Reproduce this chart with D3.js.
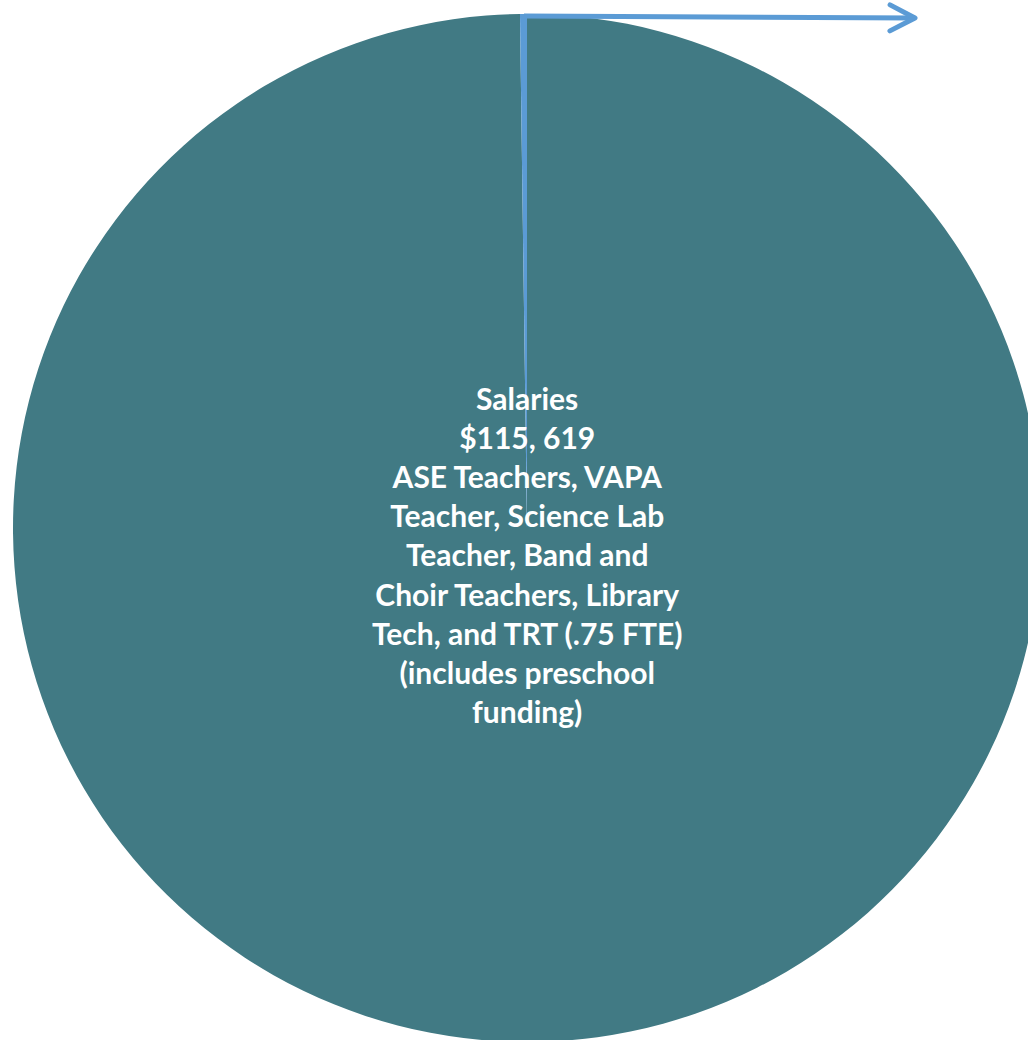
<!DOCTYPE html>
<html>
<head>
<meta charset="utf-8">
<script src="https://cdn.jsdelivr.net/npm/d3@7"></script>
<style>
  html, body { margin: 0; padding: 0; background: #ffffff; overflow: hidden; }
  .label { font-family: Lato, "Open Sans", sans-serif; font-weight: bold; fill: #ffffff; }
</style>
</head>
<body>
<div id="chart"></div>
<script>
// data
const categories = ["Salaries", "Other"];
const values = [115619, 252];
const labelLines = [
    ["Salaries", "$115, 619", "ASE Teachers, VAPA", "Teacher, Science Lab",
     "Teacher, Band and", "Choir Teachers, Library", "Tech, and TRT (.75 FTE)",
     "(includes preschool", "funding)"],
    []
];
const colors = ["#417a84", "#5b9bd5"];

const width = 1028, height = 1040;
const cx = 527, cy = 528, radius = 514;

const svg = d3.select("#chart").append("svg")
    .attr("width", width)
    .attr("height", height);

const defs = svg.append("defs");
defs.append("marker")
    .attr("id", "arrow")
    .attr("viewBox", "-30 -16 36 32")
    .attr("refX", 0)
    .attr("refY", 0)
    .attr("markerWidth", 36)
    .attr("markerHeight", 32)
    .attr("markerUnits", "userSpaceOnUse")
    .attr("orient", "auto")
  .append("path")
    .attr("d", "M-25,-13 L0,0 L-25,13")
    .attr("fill", "none")
    .attr("stroke", colors[1])
    .attr("stroke-width", 5)
    .attr("stroke-linecap", "round")
    .attr("stroke-linejoin", "round");

const g = svg.append("g").attr("transform", `translate(${cx},${cy})`);

const pie = d3.pie().sort(null).value(d => d.value);
const data = pie(categories.map((c, i) => ({ name: c, value: values[i], lines: labelLines[i] })));

const arc = d3.arc().innerRadius(0).outerRadius(radius);

g.selectAll(".slice")
    .data(data)
    .enter().append("path")
    .attr("class", "slice")
    .attr("d", arc)
    .attr("fill", (d, i) => colors[i]);

// leader line for the small slice (its label sits off the picture)
const small = data[1];
const tip = d3.arc().innerRadius(radius).outerRadius(radius)
    .startAngle(small.endAngle).endAngle(small.endAngle).centroid();
g.append("path")
    .attr("d", `M${tip[0] - 3},${tip[1] + 2} L${tip[0] + 388},${tip[1] + 4}`)
    .attr("fill", "none")
    .attr("stroke", colors[1])
    .attr("stroke-width", 5)
    .attr("marker-end", "url(#arrow)");

// label of the big slice
const labelArc = d3.arc().innerRadius(0).outerRadius(56);
const fontSize = 30, lineH = 39.2;
const big = data[0];
const pos = labelArc.centroid(big);
const text = g.append("text")
    .attr("class", "label")
    .attr("text-anchor", "middle")
    .style("font-size", fontSize + "px");
big.data.lines.forEach((line, i) => {
    text.append("tspan")
        .attr("x", pos[0])
        .attr("y", pos[1] + (i - (big.data.lines.length - 1) / 2) * lineH)
        .attr("dy", "0.35em")
        .text(line);
});
</script>
</body>
</html>
